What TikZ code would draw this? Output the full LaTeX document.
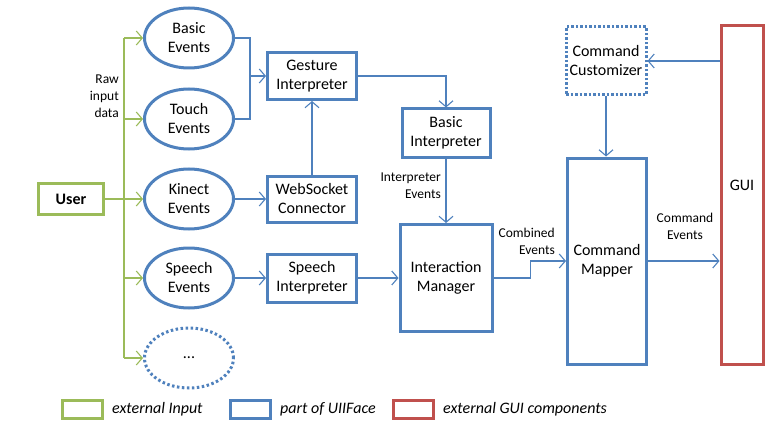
\documentclass[tikz,border=0pt]{standalone}
\usepackage{fontspec}
\setmainfont{Carlito}
\usetikzlibrary{arrows.meta,positioning,shapes.geometric}
\definecolor{uiBlue}{HTML}{4F81BD}
\definecolor{uiGreen}{HTML}{9BBB59}
\definecolor{uiRed}{HTML}{C0504D}
\newcommand\bodyfont{\fontsize{16}{19}\selectfont}

\begin{document}
\begin{tikzpicture}[x=1pt,y=-1pt,every node/.style={font=\bodyfont},
    evt/.style={ellipse,draw=uiBlue,line width=3pt,minimum width=89pt,minimum height=60pt,align=center,inner sep=0pt},
    comp/.style={draw=uiBlue,line width=3pt,align=center,inner sep=0pt},
    lbl/.style={font=\fontsize{13.5}{17}\selectfont,inner sep=0pt},
    legbox/.style={line width=3pt,minimum width=40pt,minimum height=18pt,inner sep=0pt},
    legtext/.style={font=\bodyfont\itshape,right=8pt of #1,inner sep=0pt},
    flow/.style={draw=uiBlue,line width=1.1pt,-{Straight Barb[length=6pt,width=14pt]}},
    raw/.style={draw=uiGreen,line width=1.1pt,-{Straight Barb[length=6pt,width=14pt]}}]
  \useasboundingbox (0,0) rectangle (781,433);

  % input side
  \node[draw=uiGreen,line width=3.5pt,minimum width=65pt,minimum height=31pt,font=\bodyfont\bfseries] (user) at (71,199) {User};
  \coordinate (trunk) at (124,199);
  \node[evt] (basic) at (189,38) {Basic\\Events};
  \node[evt] (touch) at (189,119) {Touch\\Events};
  \node[evt] (kinect) at (189,199) {Kinect\\Events};
  \node[evt] (speech) at (189,278) {Speech\\Events};
  \node[evt,dash pattern=on 2.5pt off 2.5pt] (more) at (189,358) {...};
  \node[lbl,anchor=east,align=right] (rawlbl) at (119,96) {Raw\\input\\data};

  % UIIFace
  \node[comp,minimum width=89pt,minimum height=47pt] (gesture) at (312,76) {Gesture\\Interpreter};
  \node[comp,minimum width=89pt,minimum height=46pt] (websocket) at (312,199) {WebSocket\\Connector};
  \node[comp,minimum width=89pt,minimum height=48pt] (speechint) at (312,278) {Speech\\Interpreter};
  \node[comp,minimum width=88pt,minimum height=48pt] (basicint) at (446,133) {Basic\\Interpreter};
  \node[comp,minimum width=92pt,minimum height=107pt] (manager) at (446,278) {Interaction\\Manager};
  \node[comp,minimum width=79pt,minimum height=206pt] (mapper) at (607,261) {Command\\Mapper};
  \node[comp,dash pattern=on 2.5pt off 2pt,minimum width=80pt,minimum height=68pt] (custom) at (606,61) {Command\\Customizer};
  \node[draw=uiRed,line width=3pt,minimum width=42pt,minimum height=339pt,inner sep=0pt,text depth=20pt] (gui) at (742,195) {GUI};

  \node[lbl,anchor=east,align=right] (ievlbl) at (441,186) {Interpreter\\Events};
  \node[lbl,anchor=east,align=right] (cevlbl) at (555,241) {Combined\\Events};
  \node[lbl,align=center] (cmdlbl) at (685,226) {Command\\Events};

  % raw input
  \draw[uiGreen,line width=1.8pt] (user.east) -- (trunk);
  \draw[uiGreen,line width=1.1pt] (basic.west -| trunk) -- (more.west -| trunk);
  \foreach \e in {basic,touch,kinect,speech,more}
    \draw[raw] (\e.west -| trunk) -- (\e.west);

  % event flow
  \coordinate (gjoin) at (250,76);
  \draw[uiBlue,line width=1.1pt] (basic.east) -| (gjoin) |- (touch.east);
  \draw[flow] (gjoin) -- (gesture.west);
  \draw[flow] (kinect) -- (websocket);
  \draw[flow] (websocket) -- (gesture);
  \draw[flow] (speech) -- (speechint);
  \draw[flow] (gesture.east) -| (basicint.north);
  \draw[flow] (basicint) -- (manager);
  \draw[flow] (speechint) -- (manager);
  \draw[flow] (manager.east) -- ++(37,0) |- (mapper.west);
  \draw[flow] (custom.south) -- (custom.south |- mapper.north);
  \draw[flow] (gui.west |- custom.east) -- (custom.east);
  \draw[flow] (mapper.east) -- (gui.west |- mapper.east);

  % legend
  \node[legbox,draw=uiGreen] (lgin) at (82.5,409.5) {};
  \node[legtext=lgin] (lgintxt) {external Input};
  \node[legbox,draw=uiBlue] (lgui) at (250.5,409.5) {};
  \node[legtext=lgui] (lguitxt) {part of UIIFace};
  \node[legbox,draw=uiRed] (lggui) at (413.5,409.5) {};
  \node[legtext=lggui] (lgguitxt) {external GUI components};
\end{tikzpicture}
\end{document}
